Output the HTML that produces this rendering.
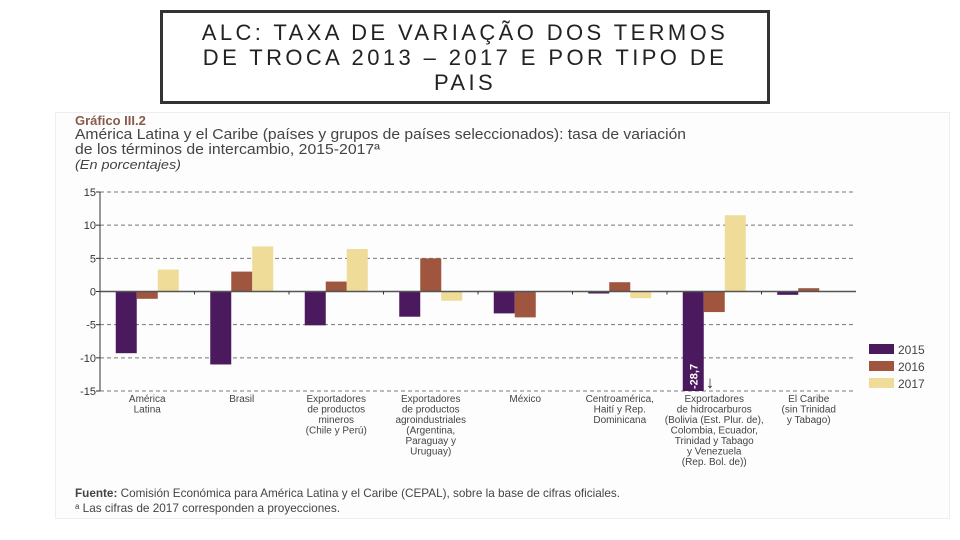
<!DOCTYPE html>
<html><head><meta charset="utf-8"><style>
body{margin:0;width:960px;height:540px;background:#fff;font-family:"Liberation Sans",sans-serif;overflow:hidden;position:relative}
#title{position:absolute;left:160px;top:10px;border:3px solid #333;text-align:center;font-size:22px;letter-spacing:3.4px;line-height:25px;color:#222;padding:7px 20px 0;box-sizing:border-box;height:94px;width:610px}
#panel{position:absolute;left:55px;top:112px;width:893px;height:405px;background:#fdfdfd;border:1px solid #eee}
</style></head><body>
<div id="title">ALC: TAXA DE VARIAÇÃO DOS TERMOS DE TROCA 2013 – 2017 E POR TIPO DE PAIS</div>
<div id="panel"></div>
<svg id="chart" width="960" height="540" style="position:absolute;left:0;top:0"></svg>
<script>
const categories=[["América","Latina"],["Brasil"],["Exportadores","de productos","mineros","(Chile y Perú)"],["Exportadores","de productos","agroindustriales","(Argentina,","Paraguay y","Uruguay)"],["México"],["Centroamérica,","Haití y Rep.","Dominicana"],["Exportadores","de hidrocarburos","(Bolivia (Est. Plur. de),","Colombia, Ecuador,","Trinidad y Tabago","y Venezuela","(Rep. Bol. de))"],["El Caribe","(sin Trinidad","y Tabago)"]];
const s2015=[-9.3,-11,-5.1,-3.8,-3.3,-0.3,-28.7,-0.5];
const s2016=[-1.1,3,1.5,5,-3.9,1.4,-3.1,0.5];
const s2017=[3.3,6.8,6.4,-1.4,0,-1.0,11.5,0];
const yTicks=[15,10,5,0,-5,-10,-15];
const seriesNames=["2015","2016","2017"];
const colors=["#4b1a5e","#a0553f","#eedc98"];
const NS="http://www.w3.org/2000/svg";
const svg=document.getElementById('chart');
const x0=100,x1=856,yMin=-15,yMax=15,yTop=192,yBot=391;
const y=v=>yTop+(yMax-Math.max(yMin,Math.min(yMax,v)))/(yMax-yMin)*(yBot-yTop);
const gw=(x1-x0)/categories.length;
function el(t,a,txt){const e=document.createElementNS(NS,t);for(const k in a)e.setAttribute(k,a[k]);if(txt!==undefined)e.textContent=txt;svg.appendChild(e);return e;}
let e;
e=el('text',{x:75,y:125,'font-size':13,'font-weight':'bold',fill:'#8a5a4a'},'Gráfico III.2');

e=el('text',{x:75,y:139,'font-size':14.5,fill:'#444',textLength:611,lengthAdjust:'spacingAndGlyphs'},'América Latina y el Caribe (países y grupos de países seleccionados): tasa de variación');

e=el('text',{x:75,y:154,'font-size':14.5,fill:'#444',textLength:305,lengthAdjust:'spacingAndGlyphs'},'de los términos de intercambio, 2015-2017ª');

e=el('text',{x:75,y:169,'font-size':13,'font-style':'italic',fill:'#444',textLength:106,lengthAdjust:'spacingAndGlyphs'},'(En porcentajes)');

yTicks.forEach(t=>{
 if(t!==0){e=el('line',{x1:x0,x2:x1,y1:y(t),y2:y(t),stroke:'#777','stroke-dasharray':'4,3','stroke-width':1});
 }
 e=el('line',{x1:x0-4,x2:x0,y1:y(t),y2:y(t),stroke:'#333'});
 
 e=el('text',{x:x0-4,y:y(t)+4,'font-size':11,'text-anchor':'end',fill:'#333'},String(t));
 
});
e=el('line',{x1:x0,x2:x0,y1:yTop,y2:yBot,stroke:'#333'});

const bw=21;
[s2015,s2016,s2017].forEach((s,si)=>{
 s.forEach((v,i)=>{
  const cx=x0+gw*(i+0.5)+(si-1)*bw;
  const a=y(v),b=y(0);
  e=el('rect',{x:cx-bw/2,y:Math.min(a,b),width:bw,height:Math.abs(a-b),fill:colors[si]});
  
  if(v<yMin){
   e=el('text',{x:0,y:0,'font-size':11,'font-weight':'bold',fill:'#fff','text-anchor':'start',transform:`translate(${cx+4},${yBot-2}) rotate(-90)`},String(v).replace('.',','));
   
   e=el('text',{x:cx+bw/2+2,y:yBot-3,'font-size':17,fill:'#333'},'↓');
   
  }
 });
});
e=el('line',{x1:x0,x2:x1,y1:y(0),y2:y(0),stroke:'#555','stroke-width':1.5});

categories.forEach((c,i)=>{
 const cx=x0+gw*(i+0.5);
 if(i>0){e=el('line',{x1:x0+gw*i,x2:x0+gw*i,y1:y(0),y2:y(0)+3,stroke:'#333'});
 }
 c.forEach((l,j)=>{
  e=el('text',{x:cx,y:yBot+11+j*10.5,'font-size':10,'text-anchor':'middle',fill:'#444'},l);
  
 });
});
seriesNames.forEach((n,i)=>{
 const ly=349+i*17;
 e=el('rect',{x:869,y:ly-5,width:25,height:10,fill:colors[i]});
 
 e=el('text',{x:898,y:ly+5,'font-size':12,fill:'#444'},n);
 
});
e=el('text',{x:75,y:497,'font-size':12,fill:'#444',textLength:545,lengthAdjust:'spacingAndGlyphs'},'');
e.innerHTML='<tspan font-weight="bold">Fuente:</tspan> Comisión Económica para América Latina y el Caribe (CEPAL), sobre la base de cifras oficiales.';

e=el('text',{x:75,y:512,'font-size':12,fill:'#444',textLength:265,lengthAdjust:'spacingAndGlyphs'},'ᵃ Las cifras de 2017 corresponden a proyecciones.');

</script>
</body></html>
